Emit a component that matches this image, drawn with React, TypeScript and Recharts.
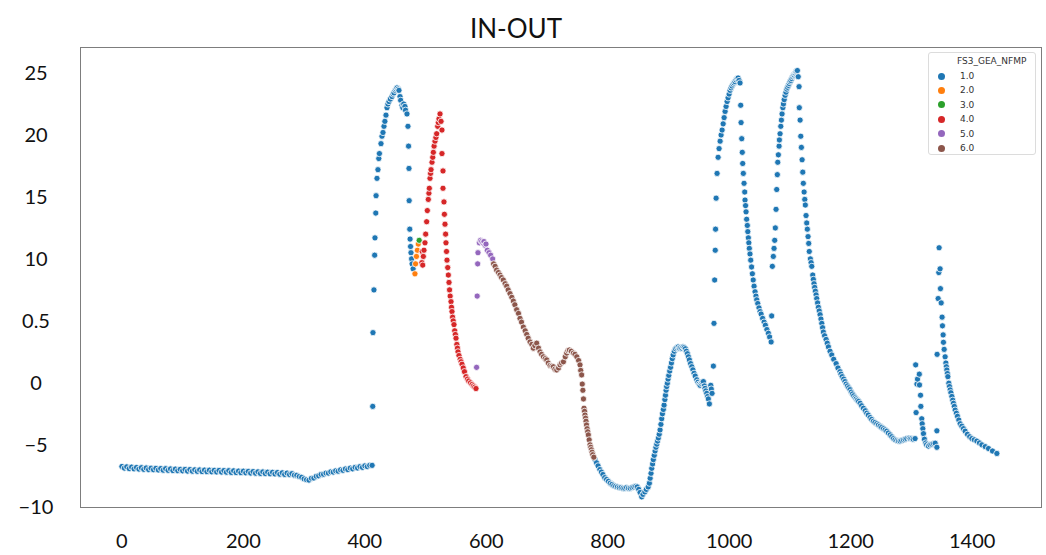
import React from "react";
import { ScatterChart, Scatter, XAxis, YAxis } from "recharts";

// axis ticks and labels as printed on the figure
const xTicks = [0, 200, 400, 600, 800, 1000, 1200, 1400];
const yTicks = [-10, -5, 0, 5, 10, 15, 20, 25];
const yTickLabels = ["−10", "−5", "0", "0.5", "10", "15", "20", "25"];

const categories = ["1.0", "2.0", "3.0", "4.0", "5.0", "6.0"];
const colors = ["#1f77b4", "#ff7f0e", "#2ca02c", "#d62728", "#9467bd", "#8c564b"];

// FS3_GEA_NFMP = 1.0  ([x, y] pairs)
const cat1 = [
  [0, -6.85], [4, -6.98], [8, -6.88], [12, -7.02], [16, -6.9], [20, -7.04], [24, -6.93], [28, -7.06],
  [32, -6.95], [36, -7.08], [40, -6.97], [44, -7.1], [48, -6.99], [52, -7.11], [56, -7.0], [60, -7.13],
  [64, -7.02], [68, -7.15], [72, -7.03], [76, -7.16], [80, -7.05], [84, -7.18], [88, -7.06], [92, -7.19],
  [96, -7.08], [100, -7.2], [104, -7.09], [108, -7.22], [112, -7.1], [116, -7.23], [120, -7.12], [124, -7.24],
  [128, -7.13], [132, -7.26], [136, -7.14], [140, -7.27], [144, -7.15], [148, -7.28], [152, -7.16], [156, -7.29],
  [160, -7.17], [164, -7.3], [168, -7.18], [172, -7.31], [176, -7.19], [180, -7.33], [184, -7.2], [188, -7.34],
  [192, -7.22], [196, -7.35], [200, -7.23], [204, -7.36], [208, -7.25], [212, -7.38], [216, -7.26], [220, -7.39],
  [224, -7.28], [228, -7.41], [232, -7.29], [236, -7.42], [240, -7.31], [244, -7.44], [248, -7.32], [252, -7.45],
  [256, -7.34], [260, -7.47], [264, -7.36], [268, -7.49], [272, -7.38], [276, -7.5], [280, -7.43], [284, -7.55],
  [288, -7.56], [292, -7.66], [296, -7.72], [300, -7.85], [304, -7.92], [308, -7.95], [312, -7.8], [316, -7.78],
  [320, -7.64], [324, -7.6], [328, -7.49], [332, -7.47], [336, -7.38], [340, -7.38], [344, -7.28], [348, -7.3],
  [352, -7.2], [356, -7.23], [360, -7.12], [364, -7.16], [368, -7.05], [372, -7.1], [376, -6.98], [380, -7.04],
  [384, -6.92], [388, -6.97], [392, -6.86], [396, -6.92], [400, -6.8], [404, -6.86], [408, -6.76], [412, -6.76],
  [413, -2.0], [413.4, 3.95], [415, 7.4], [416.2, 10.2], [416.7, 11.6], [418, 13.6], [418.5, 15.0], [420, 16.4],
  [421.6, 17.1], [423, 18.0], [424, 18.4], [426.6, 19.2], [428.2, 19.8], [429.9, 20.1], [431.5, 20.6], [433, 21.0],
  [434.8, 21.5], [436.5, 22.1], [438, 22.4], [439.8, 22.6], [442, 22.8], [444.7, 23.0], [446.5, 23.2], [448, 23.3],
  [450, 23.5], [451.5, 23.6], [453, 23.7], [455, 23.6], [456.2, 23.5], [457.9, 23.0], [459, 22.7], [461.2, 22.3],
  [462.5, 22.1], [464, 22.4], [466, 22.2], [467, 21.9], [469.4, 21.6], [471, 20.6], [472, 19.0], [472.7, 17.2],
  [473, 14.6], [474, 12.3], [474.5, 11.5], [475.3, 10.9], [476, 10.4], [477, 9.9], [477.8, 9.5], [479.5, 9.1],
  [779, -6.3], [781.5, -6.55], [784, -6.8], [787, -7.1], [789.5, -7.3], [792, -7.5], [795, -7.75], [798, -7.9],
  [801, -8.05], [804, -8.2], [807, -8.3], [810, -8.4], [813, -8.45], [816, -8.5], [819, -8.55], [822, -8.55],
  [825, -8.6], [828, -8.6], [831, -8.55], [834, -8.6], [837, -8.6], [840, -8.55], [843, -8.5], [846, -8.45],
  [848.5, -8.5], [851, -8.7], [853.2, -8.95], [855.9, -9.3], [858, -9.1], [861, -8.9], [863.5, -8.7], [866.5, -8.5],
  [868.5, -8.2], [869.8, -7.8], [871.2, -7.4], [872.4, -7.0], [873.8, -6.65], [875, -6.3], [876.5, -5.95], [877.9, -5.6],
  [879.3, -5.3], [880.7, -5.05], [882, -4.8], [883.3, -4.55], [884.7, -4.25], [886.1, -3.9], [887.5, -3.45], [888.8, -3.0],
  [890, -2.6], [891.5, -2.25], [892.7, -1.9], [894, -1.45], [895, -1.1], [896, -0.7], [897, -0.4], [898.1, -0.13],
  [899.3, 0.2], [900.5, 0.5], [902, 0.85], [903.4, 1.15], [904.8, 1.5], [906.2, 1.85], [907.6, 2.15], [909.5, 2.45],
  [911.5, 2.65], [913.7, 2.75], [916, 2.8], [918, 2.7], [920, 2.75], [922, 2.7], [924, 2.8], [926, 2.75],
  [927.8, 2.65], [929.5, 2.45], [931.1, 2.25], [932.8, 2.0], [934.4, 1.75], [936.4, 1.45], [938.4, 1.2], [940.2, 0.95],
  [942.1, 0.67], [944, 0.45], [946.6, 0.15], [948.5, -0.05], [950.5, -0.2], [952, -0.3], [954, -0.15], [955.5, -0.05],
  [957.4, 0.0], [959, -0.35], [960.2, -0.55], [961.5, -0.75], [963, -0.95], [964.5, -1.2], [965.6, -1.4], [967.3, -1.8],
  [969.6, -0.3], [970.5, -0.6], [971.7, -0.95], [973.9, 1.25],
  [974.9, 4.7], [976, 8.2], [977, 10.6], [977.5, 12.3], [978.4, 14.8], [980, 16.8], [981.7, 18.1], [983.3, 18.8],
  [985, 19.4], [986.6, 19.9], [988.3, 20.3], [990, 20.8], [991.6, 21.3], [993.2, 21.8], [994.8, 22.2], [996.5, 22.6],
  [998.1, 22.9], [999.8, 23.2], [1001.4, 23.5], [1003, 23.7], [1004.6, 23.85], [1006.3, 24.0], [1008, 24.1], [1009.6, 24.2],
  [1011.3, 24.35], [1013, 24.45], [1014.6, 24.5], [1016.2, 24.3], [1017.8, 24.1], [1018.9, 22.3], [1019.5, 20.9], [1020.6, 19.6],
  [1021.5, 18.5], [1022.2, 17.6], [1023.2, 16.8], [1024.4, 16.0], [1025.5, 15.3], [1026, 14.65], [1026.9, 14.2], [1027.7, 13.7],
  [1028.7, 13.1], [1029.8, 12.6], [1030.6, 12.1], [1031.5, 11.6], [1032.3, 11.2], [1033.1, 10.75], [1034.2, 10.3], [1035.4, 9.8],
  [1036.8, 9.25], [1038.1, 8.7], [1039.5, 8.2], [1040.9, 7.7], [1042.5, 7.25], [1044, 6.9], [1045.3, 6.6], [1047, 6.3],
  [1049, 5.95], [1050.8, 5.65], [1052.5, 5.45], [1055, 5.1], [1057.4, 4.8], [1059.5, 4.55], [1062, 4.2], [1064.5, 3.9],
  [1066.5, 3.6], [1069, 3.2], [1069.9, 5.3],
  [1071, 9.3], [1072.6, 10.1], [1073.8, 10.75], [1074.9, 11.4], [1075.9, 12.4], [1077.1, 13.9], [1078.2, 15.5], [1079.2, 16.7],
  [1079.9, 17.7], [1080.9, 18.3], [1082.1, 19.0], [1082.6, 19.5], [1083.7, 20.0], [1084.9, 20.6], [1085.9, 21.1], [1087, 21.6],
  [1088.3, 22.1], [1089.2, 22.4], [1090.5, 22.75], [1092, 23.1], [1093.4, 23.35], [1094.8, 23.6], [1096, 23.75], [1097.5, 23.9],
  [1098.8, 24.05], [1100.2, 24.2], [1101.6, 24.3], [1103, 24.45], [1104.3, 24.6], [1105.6, 24.7], [1106.8, 24.75], [1108, 24.85],
  [1109, 24.9], [1110, 25.0], [1111, 25.05], [1112.2, 25.1], [1113.6, 24.6], [1115, 23.8], [1115.4, 22.1], [1116.7, 21.1],
  [1117.8, 19.8], [1118.8, 18.9], [1120, 17.9], [1121.1, 16.9], [1122, 16.0], [1123.3, 15.3], [1124.4, 14.7], [1125.3, 14.25],
  [1126.5, 13.4], [1127.6, 12.8], [1128.6, 12.3], [1129.8, 11.7], [1130.9, 11.15], [1131.8, 10.5], [1133.6, 9.9], [1134.8, 9.6],
  [1135.9, 9.3], [1137.5, 8.6], [1138.5, 8.25], [1139.6, 7.9], [1140.7, 7.6], [1141.8, 7.3], [1143, 7.0], [1144.1, 6.7],
  [1145.5, 6.35], [1146.8, 6.0], [1148.2, 5.7], [1149.6, 5.4], [1151, 5.05], [1152.4, 4.7], [1153.7, 4.35], [1155, 4.0],
  [1157, 3.7], [1159.5, 3.4], [1161.4, 3.1], [1163.3, 2.8], [1166, 2.45], [1168.8, 2.15], [1172, 1.8], [1176, 1.45],
  [1179, 1.1], [1182.4, 0.8], [1184, 0.6], [1186, 0.4], [1188.5, 0.2], [1190.6, 0.0], [1192.5, -0.2], [1194.7, -0.35],
  [1196.8, -0.5], [1198.9, -0.65], [1201, -0.85], [1203, -1.0], [1205, -1.15], [1207.2, -1.3], [1209, -1.4], [1211, -1.5],
  [1213, -1.6], [1215.5, -1.75], [1218, -1.95], [1221, -2.15], [1224, -2.35], [1226.5, -2.55], [1229, -2.7], [1232, -2.9],
  [1234.6, -3.05], [1237.4, -3.2], [1240, -3.3], [1243, -3.4], [1245.7, -3.5], [1248.4, -3.6], [1251, -3.7], [1254, -3.8],
  [1256.7, -3.9], [1259.4, -4.0], [1262, -4.15], [1265, -4.3], [1267.7, -4.45], [1270.4, -4.6], [1273, -4.7], [1276, -4.75],
  [1278.7, -4.8], [1281.4, -4.8], [1284, -4.75], [1287, -4.7], [1289.7, -4.65], [1292.4, -4.6], [1296, -4.55], [1298, -4.6],
  [1300.6, -4.6], [1303, -4.65], [1306, -4.6],
  [1307, 1.35], [1307.7, -2.5], [1309, -0.2], [1310, 0.2], [1313, 0.6], [1313.3, -0.27], [1315, -1.1], [1315.5, -2.0],
  [1317, -3.0], [1317.7, -3.4], [1318.8, -3.8], [1319.8, -4.2], [1321.4, -4.65], [1323.5, -4.95], [1325, -5.1], [1328, -5.2],
  [1330.5, -5.1], [1333.6, -5.05], [1336.5, -5.0], [1339.1, -4.97], [1341.9, -5.3], [1341.9, -3.97], [1342.3, 2.2], [1344, 6.7],
  [1345.1, 8.8], [1345.6, 10.8], [1347.2, 9.1], [1347.8, 7.5], [1349, 6.35], [1350.5, 5.2], [1351.1, 4.5], [1352.2, 3.77],
  [1352.7, 3.17], [1353.9, 2.6], [1355.5, 2.0], [1356.7, 1.5], [1357.5, 1.2], [1358.3, 0.94], [1359.2, 0.65], [1360, 0.4],
  [1361.6, -0.13], [1362.7, -0.4], [1363.8, -0.67], [1365, -0.9], [1366.6, -1.2], [1368, -1.5], [1369.2, -1.75], [1370.6, -2.0],
  [1372, -2.3], [1374, -2.55], [1375.8, -2.8], [1378, -3.1], [1380.2, -3.4], [1383, -3.6], [1385.7, -3.8], [1388.5, -4.0],
  [1392.2, -4.25], [1396, -4.45], [1399.5, -4.6], [1403.5, -4.7], [1407.7, -4.8], [1412, -4.95], [1416, -5.1], [1421.5, -5.25],
  [1426.9, -5.4], [1433.5, -5.6], [1440.7, -5.8],
];

// FS3_GEA_NFMP = 2.0
const cat2 = [[482.5, 8.7], [483.5, 9.5], [485, 10.1], [486.5, 10.6], [488, 11.1]];

// FS3_GEA_NFMP = 3.0
const cat3 = [[489.5, 11.4]];

// FS3_GEA_NFMP = 4.0
const cat4 = [
  [494, 9.6], [494.5, 10.5], [495.3, 9.4], [496.3, 10.1], [497.4, 10.6], [499, 11.2], [500.2, 11.9], [501.8, 12.9],
  [502.9, 13.8], [504.5, 14.7], [505.5, 15.2], [506.2, 15.6], [507.3, 16.4], [508.2, 16.8], [509, 17.1], [510.6, 17.7],
  [511.8, 18.1], [512.8, 18.5], [514, 19.0], [515.5, 19.4], [517, 19.7], [518.3, 20.0], [520, 20.6], [521, 20.9],
  [522.1, 21.2], [523.8, 21.6], [525.5, 21.0], [527, 20.3], [527, 18.4], [528.7, 17.0], [528.7, 15.6], [530.3, 14.5],
  [531, 13.5], [532, 12.7], [533, 11.9], [533.6, 11.2], [534.5, 10.5], [535.3, 9.8], [536.5, 9.2], [537.5, 8.6],
  [538.6, 8.0], [539.5, 7.4], [540.5, 6.9], [541.9, 6.45], [542.7, 6.0], [543.5, 5.65], [544.5, 5.2], [545.5, 4.9],
  [546.8, 4.6], [548, 4.1], [549, 3.8], [550.1, 3.5], [551.5, 3.0], [552.5, 2.7], [553.4, 2.4], [555, 2.1],
  [557, 1.8], [558.5, 1.6], [560, 1.4], [562, 1.1], [564, 0.8], [566.6, 0.4], [569, 0.2], [571, 0.05],
  [574, -0.1], [576.5, -0.24], [579, -0.35], [581, -0.45], [583, -0.56],
];

// FS3_GEA_NFMP = 5.0
const cat5 = [
  [584, 1.15], [585, 6.9], [585.8, 9.5], [586.3, 10.4], [588.5, 11.2], [590.5, 11.4], [592.4, 11.3], [594.5, 11.2],
  [596.2, 11.3], [598, 11.0], [599.5, 11.1], [601.7, 10.6], [604.5, 10.4], [607.2, 10.2], [610.5, 9.9],
];

// FS3_GEA_NFMP = 6.0
const cat6 = [
  [612, 9.5], [614.5, 9.3], [617, 9.0], [620, 8.8], [622.6, 8.6], [625, 8.4], [628, 8.2], [631, 7.9],
  [633.6, 7.7], [636, 7.4], [639, 7.1], [642, 6.8], [644.5, 6.5], [647, 6.2], [650, 5.8], [653, 5.5],
  [655.5, 5.1], [658, 4.8], [661, 4.4], [664, 4.1], [666.6, 3.8], [669, 3.5], [672, 3.2], [675, 3.0],
  [677.4, 2.7], [680, 2.9], [683, 3.1], [686, 2.7], [688.5, 2.4], [691, 2.2], [694, 2.0], [697, 1.85],
  [699.5, 1.75], [702, 1.5], [705, 1.3], [708, 1.25], [710.4, 1.2], [713, 1.0], [716, 0.94], [719, 1.1],
  [721.4, 1.35], [724, 1.5], [727, 1.6], [730, 2.0], [732.4, 2.3], [734.5, 2.5], [736.8, 2.55], [740, 2.45],
  [743.4, 2.3], [746, 2.2], [749, 2.0], [752, 1.7], [754.3, 1.35], [755.5, 0.9], [757, 0.54], [758, -0.2],
  [759, -0.7], [760, -1.4], [760.9, -2.15], [761.8, -2.4], [762.5, -2.7], [763.4, -2.95], [764.2, -3.2], [765, -3.5],
  [766, -3.8], [767, -4.05], [768, -4.3], [769.4, -4.7], [770.8, -5.1], [772, -5.3], [773, -5.5], [774.2, -5.7],
  [775.3, -5.9], [777, -6.1],
];

const seriesData = [cat1, cat2, cat3, cat4, cat5, cat6];

const toPoints = (arr) => arr.map(([x, y]) => ({ x, y }));

const xDomain = [-69, 1515];
const yDomain = [-10.2, 27];
const font = "Lato, 'Open Sans', sans-serif";

const makeDot = (color) => (props) => {
  const { cx, cy } = props;
  if (cx == null || cy == null) return null;
  return <circle cx={cx} cy={cy} r={3.1} fill={color} stroke="#ffffff" strokeWidth={0.8} />;
};

const XTick = (props) => {
  const { x, y, payload } = props;
  return (
    <text x={x} y={y + 24} textAnchor="middle" dominantBaseline="central" fontSize={20} fill="#111" fontFamily={font}>
      {payload.value}
    </text>
  );
};

const YTick = (props) => {
  const { x, y, payload } = props;
  const label = yTickLabels[yTicks.indexOf(payload.value)];
  return (
    <text x={x - 36} y={y} textAnchor="middle" dominantBaseline="central" fontSize={20} fill="#111" fontFamily={font}>
      {label}
    </text>
  );
};

export default function App() {
  return (
    <div style={{ position: "absolute", left: 0, top: 0, width: 1046, height: 555, background: "#fff", fontFamily: font }}>
      <div
        style={{
          position: "absolute",
          left: 366,
          top: 13,
          width: 300,
          textAlign: "center",
          fontSize: 26,
          lineHeight: "30px",
          color: "#111",
          zIndex: 2,
        }}
      >
        IN-OUT
      </div>

      <ScatterChart width={1046} height={555} margin={{ top: 47, right: 4, bottom: 0, left: 0 }}>
        <XAxis
          dataKey="x"
          type="number"
          domain={xDomain}
          ticks={xTicks}
          allowDataOverflow
          height={47}
          tickLine={false}
          axisLine={false}
          tick={<XTick />}
        />
        <YAxis
          dataKey="y"
          type="number"
          domain={yDomain}
          ticks={yTicks}
          allowDataOverflow
          width={80}
          tickLine={false}
          axisLine={false}
          tick={<YTick />}
        />
        {seriesData.map((d, i) => (
          <Scatter
            key={categories[i]}
            name={categories[i]}
            data={toPoints(d)}
            shape={makeDot(colors[i])}
            isAnimationActive={false}
          />
        ))}
      </ScatterChart>

      {/* axes frame */}
      <div
        style={{
          position: "absolute",
          left: 80,
          top: 47,
          width: 962,
          height: 461,
          boxSizing: "border-box",
          border: "1px solid #7d7d7d",
          pointerEvents: "none",
          zIndex: 1,
        }}
      />

      <div
        style={{
          position: "absolute",
          left: 928,
          top: 52,
          width: 108,
          height: 103,
          boxSizing: "border-box",
          border: "1px solid #dcdcdc",
          borderRadius: 3,
          background: "#fff",
          fontFamily: "'DejaVu Sans', sans-serif",
          fontSize: 9,
          color: "#333",
          zIndex: 2,
        }}
      >
        <div style={{ position: "absolute", left: 28, top: 2, whiteSpace: "nowrap", lineHeight: "12px" }}>FS3_GEA_NFMP</div>
        {categories.map((c, i) => (
          <div
            key={c}
            style={{ position: "absolute", left: 9, top: 16 + i * 14.4, height: 14, display: "flex", alignItems: "center" }}
          >
            <span
              style={{ display: "inline-block", width: 7, height: 7, borderRadius: "50%", background: colors[i], marginRight: 15 }}
            />
            <span>{c}</span>
          </div>
        ))}
      </div>
    </div>
  );
}
